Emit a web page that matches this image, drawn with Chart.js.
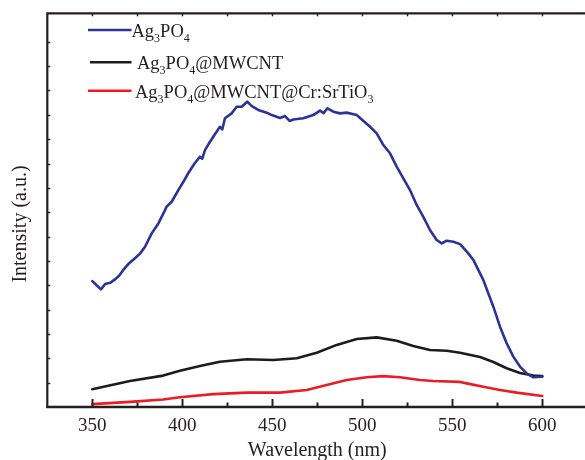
<!DOCTYPE html>
<html>
<head>
<meta charset="utf-8">
<script src="https://cdn.jsdelivr.net/npm/chart.js@4"></script>
<style>
  html, body { margin: 0; padding: 0; background: #fff; overflow: hidden; }
  #wrap { width: 600px; height: 463px; }
</style>
</head>
<body>
<div id="wrap"><canvas id="c" width="600" height="463"></canvas></div>
<script>
// Photoluminescence spectra (wavelength in nm, intensity in a.u.)
const ag3po4Wl = [350, 352.4, 354.8, 357.1, 359.9, 362.6, 365, 367.2, 370, 373.7, 376.5, 379.3, 383, 386.7, 389.5, 391.3, 394.1, 397.8, 400.6, 403.3, 406.8, 409.8, 411.1, 412.6, 414.6, 417.2, 420.9, 422.2, 423.7, 427.4, 430.2, 433, 436.1, 438.6, 442.2, 446.9, 449.7, 454.3, 457.1, 459.6, 461.7, 467.2, 472.8, 476.5, 478.5, 480.6, 483.9, 487.6, 491.3, 496.9, 499.7, 504.3, 508, 511.7, 515.4, 519.1, 522.8, 526.5, 530.2, 533.9, 537.6, 541.3, 544.1, 546.9, 550.6, 554.3, 558.9, 561.7, 567.2, 572.8, 576.5, 580.2, 583.9, 587.6, 591.3, 595, 600];
const ag3po4I = [517, 500, 483, 505, 510, 524, 540, 563, 587, 611, 630, 658, 713, 754, 795, 823, 843, 891, 925, 960, 1000, 1028, 1020, 1055, 1080, 1110, 1151, 1140, 1186, 1206, 1233, 1233, 1254, 1236, 1220, 1209, 1199, 1187, 1195, 1175, 1181, 1186, 1199, 1217, 1207, 1227, 1213, 1206, 1209, 1199, 1181, 1151, 1124, 1076, 1042, 987, 939, 891, 830, 781, 727, 686, 672, 683, 679, 669, 631, 604, 522, 412, 330, 262, 207, 166, 138, 122, 124];

const mwcntWl = [350, 370.9, 389.4, 398.7, 409.8, 420.9, 435.9, 450.6, 463.6, 474.7, 485.8, 496.9, 508, 519.1, 528.3, 537.6, 546.9, 554.3, 565.4, 572.8, 580.2, 587.6, 595, 600];
const mwcntI = [73, 107, 129, 149, 168, 186, 196, 193, 200, 223, 255, 279, 286, 272, 251, 234, 231, 223, 205, 185, 159, 140, 129, 127];

const srtioWl = [350, 370.9, 389.4, 398.7, 417.2, 435.9, 454.3, 469.1, 480.2, 491.3, 502.4, 511.7, 520.9, 532, 539.4, 554.3, 558, 567.2, 576.5, 585.8, 600];
const srtioI = [12, 21, 31, 40, 53, 59, 59, 70, 90, 111, 122, 127, 122, 111, 107, 103, 97, 83, 70, 59, 45];

const xTickValues = [350, 400, 450, 500, 550, 600];

const seriesNames = [
  [['Ag', 0], ['3', 1], ['PO', 0], ['4', 1]],
  [['Ag', 0], ['3', 1], ['PO', 0], ['4', 1], ['@MWCNT', 0]],
  [['Ag', 0], ['3', 1], ['PO', 0], ['4', 1], ['@MWCNT@Cr:SrTiO', 0], ['3', 1]]
];
const seriesColors = ['#2b3494', '#1c1c1c', '#ec1c24'];

const pairs = (xs, ys) => xs.map((x, i) => ({ x: x, y: ys[i] }));

const SERIF = '"Liberation Serif", "Times New Roman", serif';
const INK = '#231f20';

// Frame, inward tick marks, y title and the rich-text legend
const framePlugin = {
  id: 'frame',
  afterDatasetsDraw(chart) {
    const ctx = chart.ctx;
    const a = chart.chartArea;
    const xs = chart.scales.x, ys = chart.scales.y;
    ctx.save();
    ctx.strokeStyle = INK;
    ctx.lineCap = 'butt';

    // axis lines
    ctx.lineWidth = 2.2;
    ctx.beginPath();
    ctx.moveTo(a.left, a.top); ctx.lineTo(a.right + 2, a.top);
    ctx.moveTo(a.left, a.top - 1); ctx.lineTo(a.left, a.bottom + 1);
    ctx.stroke();
    ctx.lineWidth = 2.6;
    ctx.beginPath();
    ctx.moveTo(a.left - 1, a.bottom); ctx.lineTo(a.right + 2, a.bottom);
    ctx.stroke();

    // x ticks: majors at labelled values, minors halfway between
    for (let v = xs.min; v <= xs.max; v += 25) {
      if (v === xs.min) continue;
      const px = Math.round(xs.getPixelForValue(v)) + 0.5;
      const major = xTickValues.includes(v);
      ctx.lineWidth = 2;
      ctx.beginPath();
      ctx.moveTo(px, a.bottom);
      ctx.lineTo(px, a.bottom - (major ? 8 : 4.5));
      ctx.stroke();
      ctx.lineWidth = 1.4;
      ctx.beginPath();
      ctx.moveTo(px, a.top);
      ctx.lineTo(px, a.top + 3);
      ctx.stroke();
    }
    // y ticks
    ctx.lineWidth = 1.4;
    ys.ticks.forEach(t => {
      if (t.value <= ys.min) return;
      const py = Math.round(ys.getPixelForValue(t.value)) + 0.5;
      if (py < a.top + 3) return;
      ctx.beginPath();
      ctx.moveTo(a.left, py);
      ctx.lineTo(a.left + 3, py);
      ctx.stroke();
    });

    // y axis title
    ctx.fillStyle = INK;
    ctx.font = '20px ' + SERIF;
    ctx.textAlign = 'center';
    ctx.textBaseline = 'middle';
    ctx.translate(21, 224);
    ctx.rotate(-Math.PI / 2);
    ctx.fillText('Intensity (a.u.)', 0, 0);
    ctx.setTransform(1, 0, 0, 1, 0, 0);

    // legend
    const rows = [
      { y: 30, x0: 88, x1: 131.5, tx: 131.5, base: 36.5 },
      { y: 62.3, x0: 90, x1: 131.5, tx: 137, base: 68.5 },
      { y: 90.7, x0: 88, x1: 131.5, tx: 135, base: 97.5 }
    ];
    rows.forEach((r, i) => {
      ctx.strokeStyle = seriesColors[i];
      ctx.lineWidth = 2.6;
      ctx.beginPath();
      ctx.moveTo(r.x0, r.y); ctx.lineTo(r.x1, r.y);
      ctx.stroke();
      ctx.fillStyle = INK;
      ctx.textAlign = 'left';
      ctx.textBaseline = 'alphabetic';
      let x = r.tx;
      seriesNames[i].forEach(([txt, sub]) => {
        ctx.font = (sub ? '12px ' : '18.5px ') + SERIF;
        ctx.fillText(txt, x, r.base + (sub ? 5 : 0));
        x += ctx.measureText(txt).width;
      });
    });
    ctx.restore();
  }
};

new Chart(document.getElementById('c'), {
  type: 'line',
  data: {
    datasets: [
      { label: 'Ag3PO4', data: pairs(ag3po4Wl, ag3po4I), borderColor: seriesColors[0] },
      { label: 'Ag3PO4@MWCNT', data: pairs(mwcntWl, mwcntI), borderColor: seriesColors[1] },
      { label: 'Ag3PO4@MWCNT@Cr:SrTiO3', data: pairs(srtioWl, srtioI), borderColor: seriesColors[2] }
    ]
  },
  options: {
    responsive: false,
    animation: false,
    devicePixelRatio: 1,
    layout: { padding: { top: 13.3, right: 12.7, bottom: 0, left: 0 } },
    elements: {
      line: { borderWidth: 2.6, tension: 0, borderJoinStyle: 'round', borderCapStyle: 'round' },
      point: { radius: 0 }
    },
    plugins: { legend: { display: false }, tooltip: { enabled: false } },
    scales: {
      x: {
        type: 'linear',
        min: 325,
        max: 625,
        grid: { display: false, drawTicks: false },
        border: { display: false },
        afterBuildTicks: s => { s.ticks = xTickValues.map(v => ({ value: v })); },
        ticks: { padding: 8, color: INK, font: { family: SERIF, size: 19 }, maxRotation: 0, autoSkip: false },
        title: { display: true, text: 'Wavelength (nm)', color: INK, font: { family: SERIF, size: 20 }, padding: 0 },
        afterFit: s => { s.height = 56; }
      },
      y: {
        min: 0,
        max: 1617,
        grid: { display: false, drawTicks: false },
        border: { display: false },
        ticks: { display: false, stepSize: 100 },
        afterFit: s => { s.width = 47.3; }
      }
    }
  },
  plugins: [framePlugin]
});
</script>
</body>
</html>
